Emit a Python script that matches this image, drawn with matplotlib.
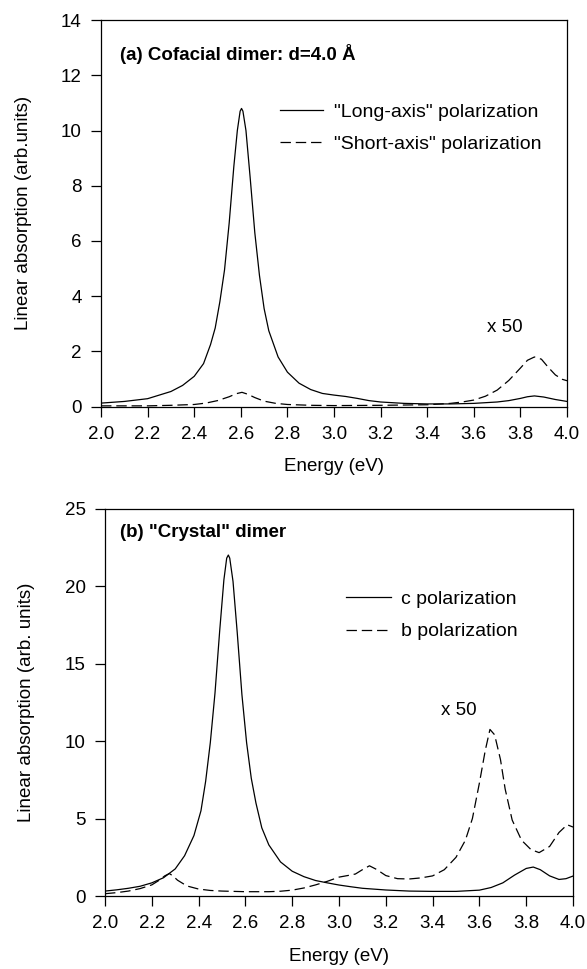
import matplotlib
matplotlib.use("Agg")
import matplotlib.pyplot as plt

plt.rcParams['font.family'] = ['Liberation Sans', 'DejaVu Sans']
plt.rcParams['font.size'] = 13.5
plt.rcParams['lines.scale_dashes'] = False

# (a) cofacial dimer, d = 4.0 A
energy_long = [2.0, 2.1, 2.2, 2.3, 2.35, 2.4, 2.44, 2.47, 2.49, 2.51, 2.53, 2.55, 2.57, 2.585, 2.597,
               2.603, 2.609, 2.622, 2.64, 2.66, 2.68, 2.7, 2.72, 2.76, 2.8, 2.85, 2.9, 2.95, 3.0,
               3.05, 3.1, 3.15, 3.2, 3.3, 3.4, 3.5, 3.6, 3.7, 3.75, 3.8, 3.83, 3.86, 3.9, 3.95, 4.0]
absorb_long = [0.13, 0.19, 0.29, 0.55, 0.77, 1.1, 1.56, 2.25, 2.85, 3.8, 4.95, 6.65, 8.7, 10.0, 10.7,
               10.8, 10.7, 10.0, 8.3, 6.3, 4.75, 3.55, 2.75, 1.8, 1.25, 0.85, 0.62, 0.48, 0.42,
               0.37, 0.3, 0.22, 0.17, 0.12, 0.1, 0.1, 0.12, 0.17, 0.22, 0.3, 0.36, 0.39, 0.35, 0.26, 0.19]

energy_short = [2.0, 2.2, 2.3, 2.4, 2.45, 2.5, 2.55, 2.58, 2.605, 2.63, 2.66, 2.7, 2.75, 2.8, 2.9, 3.0,
                3.2, 3.4, 3.5, 3.55, 3.6, 3.65, 3.7, 3.75, 3.8, 3.83, 3.86, 3.89, 3.92, 3.95, 3.98, 4.0]
absorb_short = [0.03, 0.03, 0.05, 0.08, 0.13, 0.22, 0.36, 0.47, 0.52, 0.45, 0.33, 0.2, 0.12, 0.08, 0.05, 0.04,
                0.05, 0.07, 0.12, 0.17, 0.24, 0.38, 0.6, 0.95, 1.4, 1.68, 1.8, 1.72, 1.42, 1.15, 0.99, 0.94]

# (b) "crystal" dimer
energy_c = [2.0, 2.05, 2.1, 2.15, 2.2, 2.25, 2.3, 2.34, 2.38, 2.41, 2.43, 2.45, 2.47, 2.49, 2.508,
            2.52, 2.527, 2.533, 2.547, 2.565, 2.585, 2.605, 2.625, 2.645, 2.67, 2.7, 2.75, 2.8, 2.85,
            2.9, 2.95, 3.0, 3.05, 3.1, 3.2, 3.3, 3.4, 3.5, 3.6, 3.65, 3.7, 3.75, 3.8, 3.83, 3.86,
            3.9, 3.94, 3.97, 4.0]
absorb_c = [0.32, 0.4, 0.5, 0.63, 0.85, 1.18, 1.75, 2.6, 3.9, 5.5, 7.4, 9.9, 13.1, 17.1, 20.4,
            21.8, 22.0, 21.8, 20.3, 17.0, 13.0, 9.9, 7.6, 6.0, 4.4, 3.3, 2.2, 1.6, 1.25,
            1.0, 0.85, 0.71, 0.6, 0.5, 0.39, 0.32, 0.3, 0.3, 0.38, 0.55, 0.85, 1.35, 1.78, 1.87, 1.7,
            1.3, 1.07, 1.12, 1.29]

energy_b = [2.0, 2.05, 2.1, 2.15, 2.2, 2.235, 2.255, 2.275, 2.29, 2.31, 2.35, 2.4, 2.45, 2.5, 2.6,
            2.7, 2.75, 2.8, 2.85, 2.9, 2.95, 3.0, 3.04, 3.07, 3.1, 3.13, 3.16, 3.2, 3.25, 3.3,
            3.35, 3.4, 3.45, 3.5, 3.54, 3.57, 3.6, 3.625, 3.645, 3.665, 3.69, 3.71, 3.74, 3.78, 3.82,
            3.855, 3.9, 3.94, 3.975, 4.0]
absorb_b = [0.15, 0.22, 0.32, 0.48, 0.72, 1.05, 1.3, 1.45, 1.3, 1.02, 0.65, 0.45, 0.36, 0.32, 0.28,
            0.28, 0.31, 0.38, 0.52, 0.72, 0.95, 1.22, 1.33, 1.42, 1.7, 1.95, 1.72, 1.32, 1.12, 1.1,
            1.17, 1.3, 1.7, 2.5, 3.6, 5.0, 7.3, 9.4, 10.75, 10.4, 8.8, 6.9, 4.9, 3.6, 3.0,
            2.8, 3.2, 4.1, 4.6, 4.45]

x_ticks = [2.0, 2.2, 2.4, 2.6, 2.8, 3.0, 3.2, 3.4, 3.6, 3.8, 4.0]

dash = (7.5, 3.5)
lw = 0.9

fig = plt.figure(figsize=(5.87, 9.69), dpi=100)
ax1 = fig.add_axes([0.1721, 0.5803, 0.7939, 0.399])
ax2 = fig.add_axes([0.1789, 0.0753, 0.7973, 0.3999])


def style_axis(ax, ymax, ystep, ylabel):
    ax.set_xlim(2.0, 4.0)
    ax.set_ylim(0, ymax)
    ax.set_xticks(x_ticks)
    ax.set_xticklabels([f"{t:.1f}" for t in x_ticks])
    ax.set_yticks(range(0, ymax + 1, ystep))
    ax.tick_params(direction='out', length=7, width=0.9, pad=7, top=False, right=False)
    for s in ax.spines.values():
        s.set_linewidth(0.9)
    ax.set_xlabel("Energy (eV)", labelpad=11)
    ax.set_ylabel(ylabel, labelpad=21)


ax1.plot(energy_long, absorb_long, color='black', lw=lw, label='"Long-axis" polarization')
ax1.plot(energy_short, absorb_short, color='black', lw=lw, dashes=dash, label='"Short-axis" polarization')
style_axis(ax1, 14, 2, "Linear absorption (arb.units)")
ax1.text(0.041, 0.911, "(a) Cofacial dimer: d=4.0 Å", transform=ax1.transAxes,
         fontweight='bold', va='center', ha='left')
ax1.text(3.734, 2.87, "x 50", ha='center', va='center')
ax1.legend(loc='upper left', bbox_to_anchor=(0.384, 0.785), frameon=False, borderpad=0, fontsize=14,
           borderaxespad=0, handlelength=2.2, handletextpad=0.6, labelspacing=0.75)

ax2.plot(energy_c, absorb_c, color='black', lw=lw, label='c polarization')
ax2.plot(energy_b, absorb_b, color='black', lw=lw, dashes=dash, label='b polarization')
style_axis(ax2, 25, 5, "Linear absorption (arb. units)")
ax2.text(0.032, 0.937, '(b) "Crystal" dimer', transform=ax2.transAxes,
         fontweight='bold', va='center', ha='left')
ax2.text(3.513, 12.0, "x 50", ha='center', va='center')
ax2.legend(loc='upper left', bbox_to_anchor=(0.515, 0.788), frameon=False, borderpad=0, fontsize=14,
           borderaxespad=0, handlelength=2.3, handletextpad=0.55, labelspacing=0.75)

fig.savefig("out.png", dpi=100)
